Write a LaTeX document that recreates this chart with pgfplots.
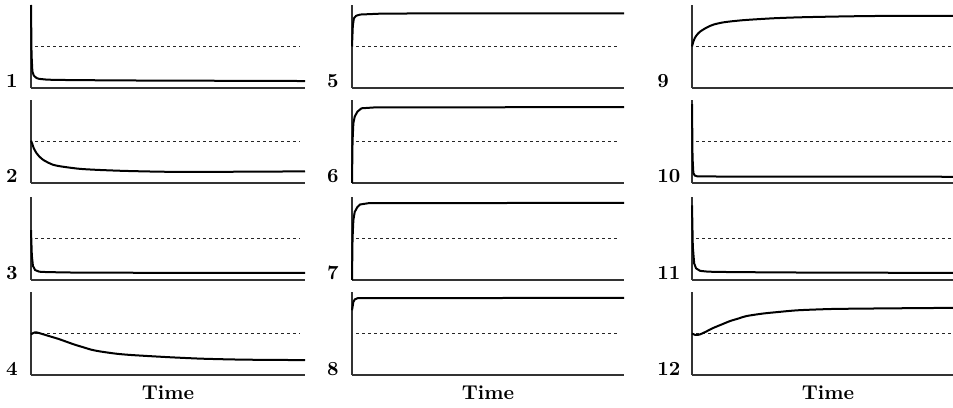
\documentclass[border=0pt]{standalone}
\usepackage{pgfplots}
\pgfplotsset{compat=1.18}
\pgfplotsset{
  panel/.style={
    scale only axis, width=136pt, height=41.5pt,
    xmin=0, xmax=100, ymin=0, ymax=1, enlargelimits=false,
    axis lines=left, axis line style={-, line width=0.7pt, black!80},
    xtick=\empty, ytick=\empty, clip=false, anchor=south west,
  },
}
\tikzset{
  curve/.style={black, line width=1pt, line join=round},
  scurve/.style={black, line width=1pt, line join=round, smooth, tension=0.45},
  ref/.style={black!85, line width=0.7pt, dash pattern=on 1.3pt off 1.7pt},
  lab/.style={font=\bfseries, inner sep=0pt},
}
\begin{document}
\begin{tikzpicture}
\useasboundingbox (0,0) rectangle (476.5pt,203.5pt);
% ---------------- column 1 ----------------
\begin{axis}[panel, width=137pt, at={(15.5pt,159.5pt)}]
\addplot[ref] coordinates {(1.5,0.5) (98,0.5)};
\addplot[curve] coordinates {(0,1.0) (0.2,0.4) (0.5,0.2) (1,0.15) (2,0.12) (3,0.11) (6,0.10) (15,0.095) (40,0.09) (70,0.087) (100,0.084)};
\node[lab, anchor=base east, xshift=-6.5pt] at (rel axis cs:0,0) {1};
\end{axis}
\begin{axis}[panel, width=137pt, at={(15.5pt,112pt)}]
\addplot[ref] coordinates {(1.5,0.5) (98,0.5)};
\addplot[scurve] coordinates {(0,0.51) (0.5,0.47) (1,0.42) (2,0.36) (3,0.32) (4.4,0.28) (6,0.25) (8,0.22) (10,0.205) (13,0.19) (18,0.17) (25,0.157) (35,0.145) (50,0.135) (70,0.135) (100,0.14)};
\node[lab, anchor=base east, xshift=-6.5pt] at (rel axis cs:0,0) {2};
\end{axis}
\begin{axis}[panel, width=137pt, at={(15.5pt,63.5pt)}]
\addplot[ref] coordinates {(1.5,0.5) (98,0.5)};
\addplot[curve] coordinates {(0,0.6) (0.3,0.3) (0.7,0.17) (1.5,0.12) (3,0.10) (6,0.095) (15,0.09) (40,0.087) (100,0.085)};
\node[lab, anchor=base east, xshift=-6.5pt] at (rel axis cs:0,0) {3};
\end{axis}
\begin{axis}[panel, width=137pt, at={(15.5pt,16pt)}]
\addplot[ref] coordinates {(1.5,0.5) (98,0.5)};
\addplot[scurve] coordinates {(0,0.49) (1.5,0.515) (3,0.505) (5,0.485) (7,0.465) (10,0.435) (13,0.40) (16,0.365) (19,0.335) (22,0.305) (25,0.285) (31,0.257) (37,0.24) (50,0.215) (62,0.197) (74,0.187) (86,0.182) (100,0.18)};
\node[lab, anchor=base east, xshift=-6.5pt] at (rel axis cs:0,0) {4};
\node[lab, anchor=base, yshift=-12pt] at (rel axis cs:0.5,0) {Time};
\end{axis}
% ---------------- column 2 ----------------
\begin{axis}[panel, at={(176pt,159.5pt)}]
\addplot[ref] coordinates {(1.5,0.5) (98,0.5)};
\addplot[curve] coordinates {(0,0.5) (0.3,0.75) (0.7,0.84) (1.5,0.87) (3,0.885) (10,0.895) (30,0.9) (60,0.9) (100,0.9)};
\node[lab, anchor=base east, xshift=-6.5pt] at (rel axis cs:0,0) {5};
\end{axis}
\begin{axis}[panel, at={(176pt,112pt)}]
\addplot[ref] coordinates {(1.5,0.5) (98,0.5)};
\addplot[curve] coordinates {(0,0.0) (0.2,0.5) (0.5,0.72) (1,0.8) (2,0.86) (3.5,0.9) (8,0.91) (100,0.915)};
\node[lab, anchor=base east, xshift=-6.5pt] at (rel axis cs:0,0) {6};
\end{axis}
\begin{axis}[panel, at={(176pt,63.5pt)}]
\addplot[ref] coordinates {(1.5,0.5) (98,0.5)};
\addplot[curve] coordinates {(0,0.0) (0.2,0.5) (0.5,0.72) (1,0.82) (2,0.88) (3,0.91) (6,0.925) (100,0.93)};
\node[lab, anchor=base east, xshift=-6.5pt] at (rel axis cs:0,0) {7};
\end{axis}
\begin{axis}[panel, at={(176pt,16pt)}]
\addplot[ref] coordinates {(1.5,0.5) (98,0.5)};
\addplot[curve] coordinates {(0,0.78) (0.5,0.88) (1,0.91) (2,0.925) (100,0.93)};
\node[lab, anchor=base east, xshift=-6.5pt] at (rel axis cs:0,0) {8};
\node[lab, anchor=base, yshift=-12pt] at (rel axis cs:0.5,0) {Time};
\end{axis}
% ---------------- column 3 ----------------
\begin{axis}[panel, at={(346pt,159.5pt)}]
\addplot[ref] coordinates {(1.5,0.5) (98,0.5)};
\addplot[scurve] coordinates {(0,0.5) (0.5,0.56) (1,0.6) (1.8,0.64) (3,0.68) (5.5,0.73) (8,0.765) (11.4,0.79) (15,0.805) (20,0.82) (30,0.84) (40,0.852) (55,0.862) (70,0.868) (100,0.868)};
\node[lab, anchor=base west, xshift=-17.5pt] at (rel axis cs:0,0) {9};
\end{axis}
\begin{axis}[panel, at={(346pt,112pt)}]
\addplot[ref] coordinates {(1.5,0.5) (98,0.5)};
\addplot[curve] coordinates {(0,0.95) (0.2,0.3) (0.5,0.12) (1,0.09) (2,0.08) (10,0.078) (100,0.075)};
\node[lab, anchor=base west, xshift=-17.5pt] at (rel axis cs:0,0) {10};
\end{axis}
\begin{axis}[panel, at={(346pt,63.5pt)}]
\addplot[ref] coordinates {(1.5,0.5) (98,0.5)};
\addplot[curve] coordinates {(0,0.9) (0.3,0.4) (0.8,0.2) (1.5,0.14) (3,0.11) (6,0.1) (15,0.095) (40,0.09) (100,0.085)};
\node[lab, anchor=base west, xshift=-17.5pt] at (rel axis cs:0,0) {11};
\end{axis}
\begin{axis}[panel, at={(346pt,16pt)}]
\addplot[ref] coordinates {(1.5,0.5) (98,0.5)};
\addplot[scurve] coordinates {(0,0.5) (1,0.485) (2,0.482) (3,0.49) (5,0.52) (7.7,0.565) (11,0.61) (14,0.65) (17,0.68) (20,0.71) (26,0.74) (32,0.76) (39,0.78) (51,0.795) (63,0.80) (80,0.805) (100,0.81)};
\node[lab, anchor=base west, xshift=-17.5pt] at (rel axis cs:0,0) {12};
\node[lab, anchor=base, yshift=-12pt] at (rel axis cs:0.5,0) {Time};
\end{axis}
\end{tikzpicture}
\end{document}
